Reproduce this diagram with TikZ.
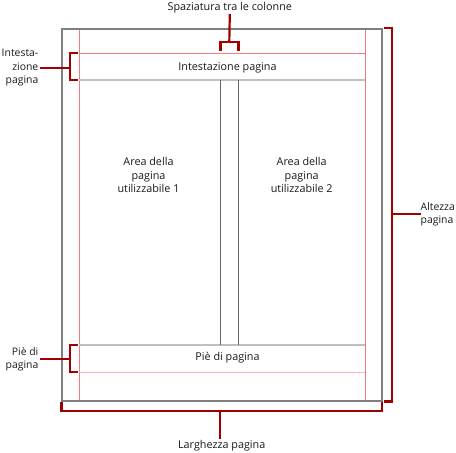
\documentclass[tikz,border=0pt]{standalone}
\usepackage{fontspec}
\setmainfont{Open Sans}
\definecolor{brkred}{HTML}{A00000}
\definecolor{pagegray}{HTML}{7F7F7F}
\definecolor{margpink}{HTML}{F07C80}
\definecolor{lightpink}{HTML}{FFB8B8}
\definecolor{hfgray}{HTML}{BFBFBF}
\definecolor{colgray}{HTML}{666666}
\begin{document}
\begin{tikzpicture}[x=1pt,y=-1pt,
  every node/.style={font=\fontsize{10.8}{13.5}\selectfont, inner sep=0pt, text=black!90},
  pageline/.style={draw=pagegray, line width=2pt},
  marginline/.style={draw=margpink, line width=1pt},
  hfline/.style={draw=hfgray, line width=2pt},
  footpink/.style={draw=lightpink, line width=1pt},
  colline/.style={draw=colgray, line width=1pt},
  bracket/.style={draw=brkred, line width=2.2pt, line join=miter},
  lbl/.style={align=center},
  sidelbl/.style={font=\fontsize{10.4}{13.2}\selectfont}]
\useasboundingbox (0,0) rectangle (456,453);

% margin lines
\draw[marginline] (79.3,29) -- (79.3,401);
\draw[marginline] (365.3,29) -- (365.3,401);
\draw[marginline] (79.3,53.3) -- (365.3,53.3);
% header / footer
\draw[hfline] (79.3,80) -- (365.3,80);
\draw[hfline] (79.3,345) -- (365.3,345);
\draw[footpink] (79.3,372.3) -- (365.3,372.3);
% column lines
\draw[colline] (220.7,80) -- (220.7,345);
\draw[colline] (238.7,80) -- (238.7,345);
% page
\draw[pageline] (62,29) rectangle (381.7,401);

% texts inside page
\node[lbl] (head) at (227.5,68) {Intestazione pagina};
\node[lbl] (foot) at (227.5,357.5) {Piè di pagina};
\node[lbl] (area1) at (148.5,175) {Area della\\pagina\\utilizzabile 1};
\node[lbl] (area2) at (301.7,175) {Area della\\pagina\\utilizzabile 2};

% labels
\node[lbl] (lgap) at (229.8,7.5) {Spaziatura tra le colonne};
\node[sidelbl, align=right, anchor=east] (lhead) at (38.5,67.7) {Intesta-\\zione\\pagina};
\node[sidelbl, align=right, anchor=east] (lfoot) at (38.5,359) {Piè di\\pagina};
\node[sidelbl, align=left, anchor=west] (lheight) at (420.5,214.5) {Altezza\\pagina};
\node[lbl] (lwidth) at (221.7,446) {Larghezza pagina};

% bracket coordinates
\coordinate (gapmid) at (229.3,42.3);
\coordinate (headmid) at (69.7,67.7);
\coordinate (footmid) at (69.7,359);
\coordinate (heightmid) at (392,213.7);
\coordinate (widthmid) at (220.3,410.7);

% brackets
\draw[bracket] (220.5,51) -- (220.5,42.3) -- (238.5,42.3) -- (238.5,51);
\draw[bracket] (gapmid) -- (lgap.south |- 0,14);
\draw[bracket] (77.7,53.3) -- (69.7,53.3) -- (69.7,80) -- (77.7,80);
\draw[bracket] (headmid) -- (40,67.7);
\draw[bracket] (77.7,345) -- (69.7,345) -- (69.7,372.3) -- (77.7,372.3);
\draw[bracket] (footmid) -- (40,359);
\draw[bracket] (384,28) -- (392,28) -- (392,401.5) -- (384,401.5);
\draw[bracket] (heightmid) -- (lheight.west |- heightmid);
\draw[bracket] (61.5,401.5) -- (61.5,410.7) -- (382,410.7) -- (382,401.5);
\draw[bracket] (widthmid) -- (220.3,438.5);
\end{tikzpicture}
\end{document}
